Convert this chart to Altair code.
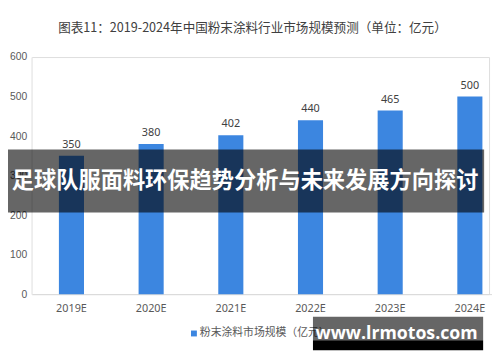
import altair as alt
import pandas as pd

years = ["2019E", "2020E", "2021E", "2022E", "2023E", "2024E"]
values = [350, 380, 402, 440, 465, 500]
y_ticks = [0, 100, 200, 300, 400, 500, 600]
title_text = "图表11：2019-2024年中国粉末涂料行业市场规模预测（单位：亿元）"
legend_text = "粉末涂料市场规模（亿元）"
banner_text = "足球队服面料环保趋势分析与未来发展方向探讨"
site_text = "www.lrmotos.com"

df = pd.DataFrame({"year": years, "value": values})
one = pd.DataFrame({"k": [0]})

BLUE = "#3c86e0"
CJK = "Noto Sans CJK SC"

x = alt.X("year:N", sort=years, title=None,
          scale=alt.Scale(range=[0, 486], paddingInner=0.685, paddingOuter=0.3425),
          axis=alt.Axis(labelAngle=0, ticks=False, domainColor="#d9d9d9", labelColor="#595959",
                        labelFontSize=11, labelPadding=9, labelFont="Noto Sans"))
y = alt.Y("value:Q", title=None,
          scale=alt.Scale(domain=[0, 600], nice=False),
          axis=alt.Axis(values=y_ticks, grid=False, ticks=False, domainColor="#eeeeee",
                        labelColor="#595959", labelFontSize=10.5, labelPadding=5, labelFont="Liberation Sans"))

bars = alt.Chart(df).mark_bar(color=BLUE, size=25.5).encode(x=x, y=y)
labels = alt.Chart(df).mark_text(dy=-11, color="#404040", fontSize=11, font="Noto Sans").encode(
    x=alt.X("year:N", sort=years), y="value:Q", text="value:Q")

title = alt.Chart(one).mark_text(fontSize=12.8, color="#404040", font=CJK).encode(
    x=alt.value(224.5), y=alt.value(-29), text=alt.value(title_text))

leg_sq = alt.Chart(one).mark_square(color=BLUE, size=36, opacity=1).encode(
    x=alt.value(165), y=alt.value(281))
leg_tx = alt.Chart(one).mark_text(align="left", fontSize=11, color="#595959", font=CJK).encode(
    x=alt.value(171), y=alt.value(281), text=alt.value(legend_text))

band = alt.Chart(one).mark_rect(color="black", opacity=0.6).encode(
    x=alt.value(-24), x2=alt.value(460), y=alt.value(94), y2=alt.value(158))
band_tx = alt.Chart(one).mark_text(color="white", fontSize=22.6, fontWeight="bold", font=CJK).encode(
    x=alt.value(217), y=alt.value(126), text=alt.value(banner_text))

box1 = alt.Chart(one).mark_rect(color="black", opacity=0.6).encode(
    x=alt.value(286), x2=alt.value(459), y=alt.value(264), y2=alt.value(288))
box2 = alt.Chart(one).mark_rect(color="black").encode(
    x=alt.value(286), x2=alt.value(459), y=alt.value(288), y2=alt.value(298))
box_tx = alt.Chart(one).mark_text(color="white", fontSize=18, fontWeight="bold", font="Open Sans").encode(
    x=alt.value(371), y=alt.value(282), text=alt.value(site_text))

chart = alt.layer(bars, labels, title, leg_sq, leg_tx, band, band_tx, box1, box2, box_tx).properties(
    width=465, height=241,
    autosize=alt.AutoSizeParams(type="none"),
    padding={"left": 24, "top": 47, "right": 3, "bottom": 58},
).configure_view(stroke=None).configure(background="white")

chart.save("out.html", embed_options={"renderer": "svg", "actions": False})
